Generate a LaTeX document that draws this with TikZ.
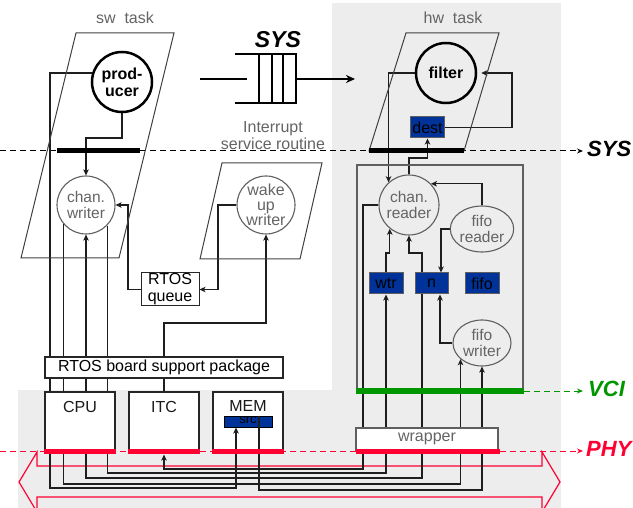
\documentclass[tikz,border=0pt]{standalone}
\usepackage{fontspec}
\setmainfont{Liberation Sans}
\usetikzlibrary{arrows.meta,shapes.geometric}
\definecolor{bgshade}{RGB}{237,237,237}
\definecolor{wirecol}{RGB}{30,30,30}
\definecolor{softgrey}{RGB}{100,100,100}
\definecolor{outlinegrey}{RGB}{95,95,95}
\definecolor{regblue}{RGB}{0,51,153}
\definecolor{phyred}{RGB}{255,0,51}
\definecolor{vcigreen}{RGB}{0,150,0}
\newcommand\fsz[2]{\fontsize{#1}{#2}\selectfont}
\pgfdeclarelayer{shade}
\pgfdeclarelayer{wiring}
\pgfsetlayers{shade,wiring,main}
\begin{document}
\begin{tikzpicture}[x=1pt,y=-1pt,
  wire/.style={draw=wirecol,line width=1.3pt},
  tip/.style={-{Stealth[length=6pt,width=5.5pt,inset=1.5pt]}},
  tips/.style={{Stealth[length=6pt,width=5.5pt,inset=1.5pt]}-{Stealth[length=6pt,width=5.5pt,inset=1.5pt]}},
  taskframe/.style={draw=black!75,line width=1pt},
  procbold/.style={circle,draw=black,line width=2.5pt,minimum size=60pt,inner sep=0pt,align=center,font=\bfseries\fsz{16}{17}},
  procgrey/.style={circle,draw=outlinegrey,line width=1.1pt,minimum size=58pt,inner sep=0pt,align=center,text=softgrey,font=\fsz{15.5}{16}},
  procoval/.style={ellipse,draw=outlinegrey,line width=1.1pt,minimum width=58pt,minimum height=46pt,inner sep=0pt,align=center,text=softgrey,font=\fsz{15.5}{16}},
  reg/.style={rectangle,fill=regblue,draw=outlinegrey,line width=1pt,minimum width=34pt,minimum height=21pt,inner sep=0pt,font=\fsz{16}{16},text=black},
  plainbox/.style={rectangle,fill=white,draw=black!85,line width=1.2pt,inner sep=0pt,align=center,font=\fsz{16}{17}},
  lbl/.style={inner sep=0pt,font=\fsz{16}{17},text=black!90},
  greytxt/.style={text=softgrey,font=\fsz{16}{17},inner sep=0pt,align=center},
  layername/.style={font=\bfseries\itshape\fsz{22}{22},inner sep=0pt,anchor=west},
  bar/.style={line width=5pt},
  levelarrow/.style={dash pattern=on 6pt off 4pt,line width=1pt,-{Stealth[length=6pt,width=5pt]}},
]
\useasboundingbox (0,0) rectangle (633,508);

% ---------- shaded hardware area, memory block ----------
\begin{pgfonlayer}{shade}
  \fill[bgshade] (332,3) rectangle (561,390);
  \fill[bgshade] (18,390) rectangle (561,508);
  \node[plainbox,minimum width=70pt,minimum height=58pt] (mem) at (248,421) {};
  \node[reg,draw=black,minimum width=48pt,minimum height=11pt,font=\fsz{13}{13}] (src) at (248,421.5) {\raisebox{0pt}[5pt][0pt]{src}};
\end{pgfonlayer}

% ---------- task frames ----------
\draw[taskframe] (76,33) -- (174,33) -- (119,258) -- (21,258) -- cycle;
\draw[taskframe] (406,33) -- (499,33) -- (464,151) -- (369,151) -- cycle;
\draw[taskframe] (222,163) -- (322,163) -- (300,259) -- (200,259) -- cycle;
\draw[draw=outlinegrey,line width=1.1pt] (357,165) rectangle (523,391);

% ---------- processes ----------
\node[procbold] (prod) at (122,82) {prod-\\ucer};
\node[procbold] (filt) at (446,73) {filter};
\node[procgrey] (cw) at (86,205) {chan.\\writer};
\node[procgrey,font=\fsz{16}{14.5}] (wuw) at (266,205) {wake\\up\\writer};
\node[procgrey,minimum size=60pt] (cr) at (409,205) {chan.\\reader};
\node[procoval] (fr) at (482,229) {fifo\\reader};
\node[procoval] (fw) at (482,343) {fifo\\writer};

% ---------- registers ----------
\node[reg] (dest) at (427.5,127.5) {dest};
\node[reg] (wtr) at (386,283.5) {wtr};
\node[reg,minimum width=33pt] (nreg) at (431.5,283.5) {n};
\node[reg] (fifo) at (482,283.5) {fifo};

% ---------- boxes ----------
\node[plainbox,line width=1pt,minimum width=58pt,minimum height=33pt] (rq) at (170,289.5) {RTOS\\queue};
\node[plainbox,minimum width=238pt,minimum height=21pt] (bsp) at (164,367.5) {RTOS board support package};
\node[plainbox,minimum width=70pt,minimum height=58pt] (cpu) at (80,421) {};
\node[plainbox,minimum width=70pt,minimum height=58pt] (itc) at (164,421) {};
\node[lbl] (cpulbl) at (80,407) {CPU};
\node[lbl] (itclbl) at (164,407) {ITC};
\node[lbl] (memlbl) at (248,406) {MEM};
\node[plainbox,draw=outlinegrey,text=softgrey,minimum width=142pt,minimum height=22pt] (wrap) at (427,439) {wrapper};

% ---------- level bars ----------
\draw[bar,black] (57,151) -- (140,151);
\draw[bar,black] (369,151) -- (464,151);
\draw[bar,vcigreen] (356,391) -- (524,391);
\draw[bar,phyred] (44,451) -- (116,451);
\draw[bar,phyred] (128,451) -- (200,451);
\draw[bar,phyred] (212,451) -- (284,451);
\draw[bar,phyred] (356,451) -- (500,451);

% ---------- texts ----------
\node[greytxt] (swlbl) at (125,18) {sw\ \ task};
\node[greytxt] (hwlbl) at (453,18) {hw\ \ task};
\node[greytxt] (isr) at (273,136) {Interrupt\\service routine};
\node[font=\bfseries\itshape\fsz{23}{23},inner sep=0pt] (qlbl) at (278,40) {SYS};
\node[layername] (syslbl) at (587,149) {SYS};
\node[layername,text=vcigreen] (vcilbl) at (588,389) {VCI};
\node[layername,text=phyred] (phylbl) at (586,449) {PHY};

% ---------- wiring ----------
\begin{pgfonlayer}{wiring}
  % abstraction levels
  \coordinate (sysA) at (0,151);   \coordinate (sysB) at (583,151);
  \coordinate (vciA) at (524,391); \coordinate (vciB) at (583,391);
  \coordinate (phyA) at (0,451);   \coordinate (phyB) at (583,451);
  \draw[levelarrow,black] (sysA) -- (sysB);
  \draw[levelarrow,vcigreen] (vciA) -- (vciB);
  \draw[levelarrow,phyred] (phyA) -- (phyB);

  % physical bus
  \draw[phyred,line width=1.2pt] (19,482) -- (37,452) -- (37,466) -- (542,466) -- (542,452)
    -- (560,482) -- (542,512) -- (542,497) -- (37,497) -- (37,512) -- cycle;

  % system-level queue
  \coordinate (qin) at (200,79);
  \coordinate (qout) at (355,79);
  \draw[line width=2pt] (235,54) -- (296,54) -- (296,103) -- (235,103);
  \foreach \qx in {259,272,283} \draw[line width=2pt] (\qx,54) -- (\qx,103);
  \draw[line width=2pt] (qin) -- (247,79);
  \draw[line width=2pt,-{Stealth[length=9pt,width=8pt]}] (296,79) -- (qout);

  % software side
  \draw[wire,tip] (prod.163) -| (50,488) -| ([xshift=-12pt]src.south);
  \draw[wire,tip] (prod.south) -- (122,138) -| (cw.north);
  \draw[wire,tip] (rq.west) -| (128,205) -- (cw.east);
  \draw[wire,tip] (wuw.west) -- (218,205) |- (rq.east);
  \draw[wire,tip] (itc.north) -- (164,323) -| (wuw.south);
  \draw[wire,tip] (cw.221) -- (cw.221 |- 0,484) -| (fw.217);
  \draw[wire,tip] (cw.316) -- (cw.316 |- 0,473) -| (wtr.south);
  \draw[wire,tips] (cw.south) |- (422,478) -- (422,253) -| (cr.south);
  \draw[wire,tip] ([xshift=11pt]src.north) -- ([xshift=11pt]src.north |- 0,490) -| (fw.south);

  % hardware side
  \draw[wire,tip] (wtr.north) -- (386,253) -| (cr.231);
  \draw[wire,tip] (fr.north) |- (cr.44);
  \draw[wire,tip] (fr.west) -| ([xshift=9.5pt]nreg.north);
  \draw[wire,tip] (fw.west) -| ([xshift=8.5pt]nreg.south);
  \draw[wire,tip] (cr.west) -| (363,469) -| ([yshift=-4pt]itc.south);
  \draw[wire,tip] (filt.west) -| (cr.132);
  \draw[wire,tip] (cr.north) -- (409,158) -| (dest.south);
  \draw[wire,tip,shorten >=4pt] (dest.east) -- (512,127.5) |- (filt.east);
\end{pgfonlayer}
\end{tikzpicture}
\end{document}
